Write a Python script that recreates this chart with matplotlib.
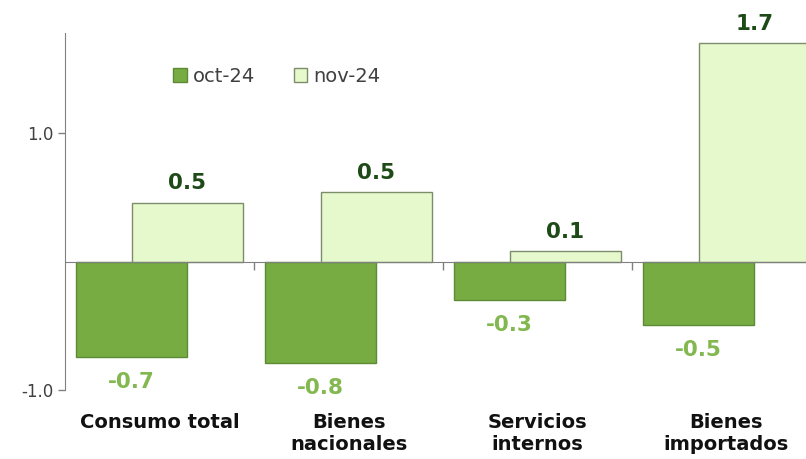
import matplotlib.pyplot as plt
import numpy as np

categories = ["Consumo total", "Bienes\nnacionales", "Servicios\ninternos", "Bienes\nimportados"]
oct_24 = [-0.74, -0.79, -0.30, -0.49]
nov_24 = [0.46, 0.54, 0.08, 1.70]
series_names = ["oct-24", "nov-24"]

OCT_FILL = "#77ac43"
OCT_EDGE = "#5d8a34"
NOV_FILL = "#e6f9cc"
NOV_EDGE = "#7d8c6a"
OCT_TEXT = "#82b84f"
NOV_TEXT = "#1d4a17"

plt.rcParams["font.family"] = ["DejaVu Sans"]

fig = plt.figure(figsize=(8.06, 4.59), dpi=100)
# axes runs past the right edge, as in the cropped original
ax = fig.add_axes([65 / 806, 69 / 459, 756 / 806, 357 / 459])

x = np.arange(len(categories))
width = 0.59
off = 0.148

b1 = ax.bar(x - off, oct_24, width, color=OCT_FILL, edgecolor=OCT_EDGE,
            linewidth=1, label=series_names[0], zorder=2)
b2 = ax.bar(x + off, nov_24, width, color=NOV_FILL, edgecolor=NOV_EDGE,
            linewidth=1, label=series_names[1], zorder=2)

for rect, v in zip(b1, oct_24):
    ax.annotate("{:.1f}".format(v), (rect.get_x() + rect.get_width() / 2, v),
                xytext=(0, -11), textcoords="offset points", ha="center",
                va="top", fontsize=15.5, fontweight="bold", color=OCT_TEXT)
for rect, v in zip(b2, nov_24):
    ax.annotate("{:.1f}".format(v), (rect.get_x() + rect.get_width() / 2, v),
                xytext=(0, 7), textcoords="offset points", ha="center",
                va="bottom", fontsize=15.5, fontweight="bold", color=NOV_TEXT)

ax.set_xlim(-0.5, len(categories) - 0.5)
ax.set_ylim(-1.0, 1.78)

for s in ["top", "right"]:
    ax.spines[s].set_visible(False)
ax.spines["left"].set_color("#808080")
ax.spines["bottom"].set_position(("data", 0))
ax.spines["bottom"].set_color("#808080")
ax.spines["bottom"].set_zorder(3)

ax.set_yticks([-1.0, 1.0])
ax.set_yticklabels(["-1.0", "1.0"])
ax.tick_params(axis="y", colors="#808080", labelcolor="#404040",
               labelsize=12, length=5, width=1)

ax.set_xticks(x[:-1] + 0.5)
ax.set_xticklabels([])
ax.tick_params(axis="x", colors="#808080", length=6, width=1, direction="out")

for xi, name in zip(x, categories):
    ax.text(xi, -0.065, name, transform=ax.get_xaxis_transform(), ha="center",
            va="top", fontsize=14, fontweight="bold", color="#111111",
            linespacing=1.2)

ax.legend(loc="upper left", bbox_to_anchor=(0.12, 0.955), ncol=2, frameon=False,
          fontsize=14, handlelength=0.7, handleheight=0.7, handletextpad=0.3,
          columnspacing=2.0, labelcolor="#404040")

fig.savefig("out.png", dpi=100)
